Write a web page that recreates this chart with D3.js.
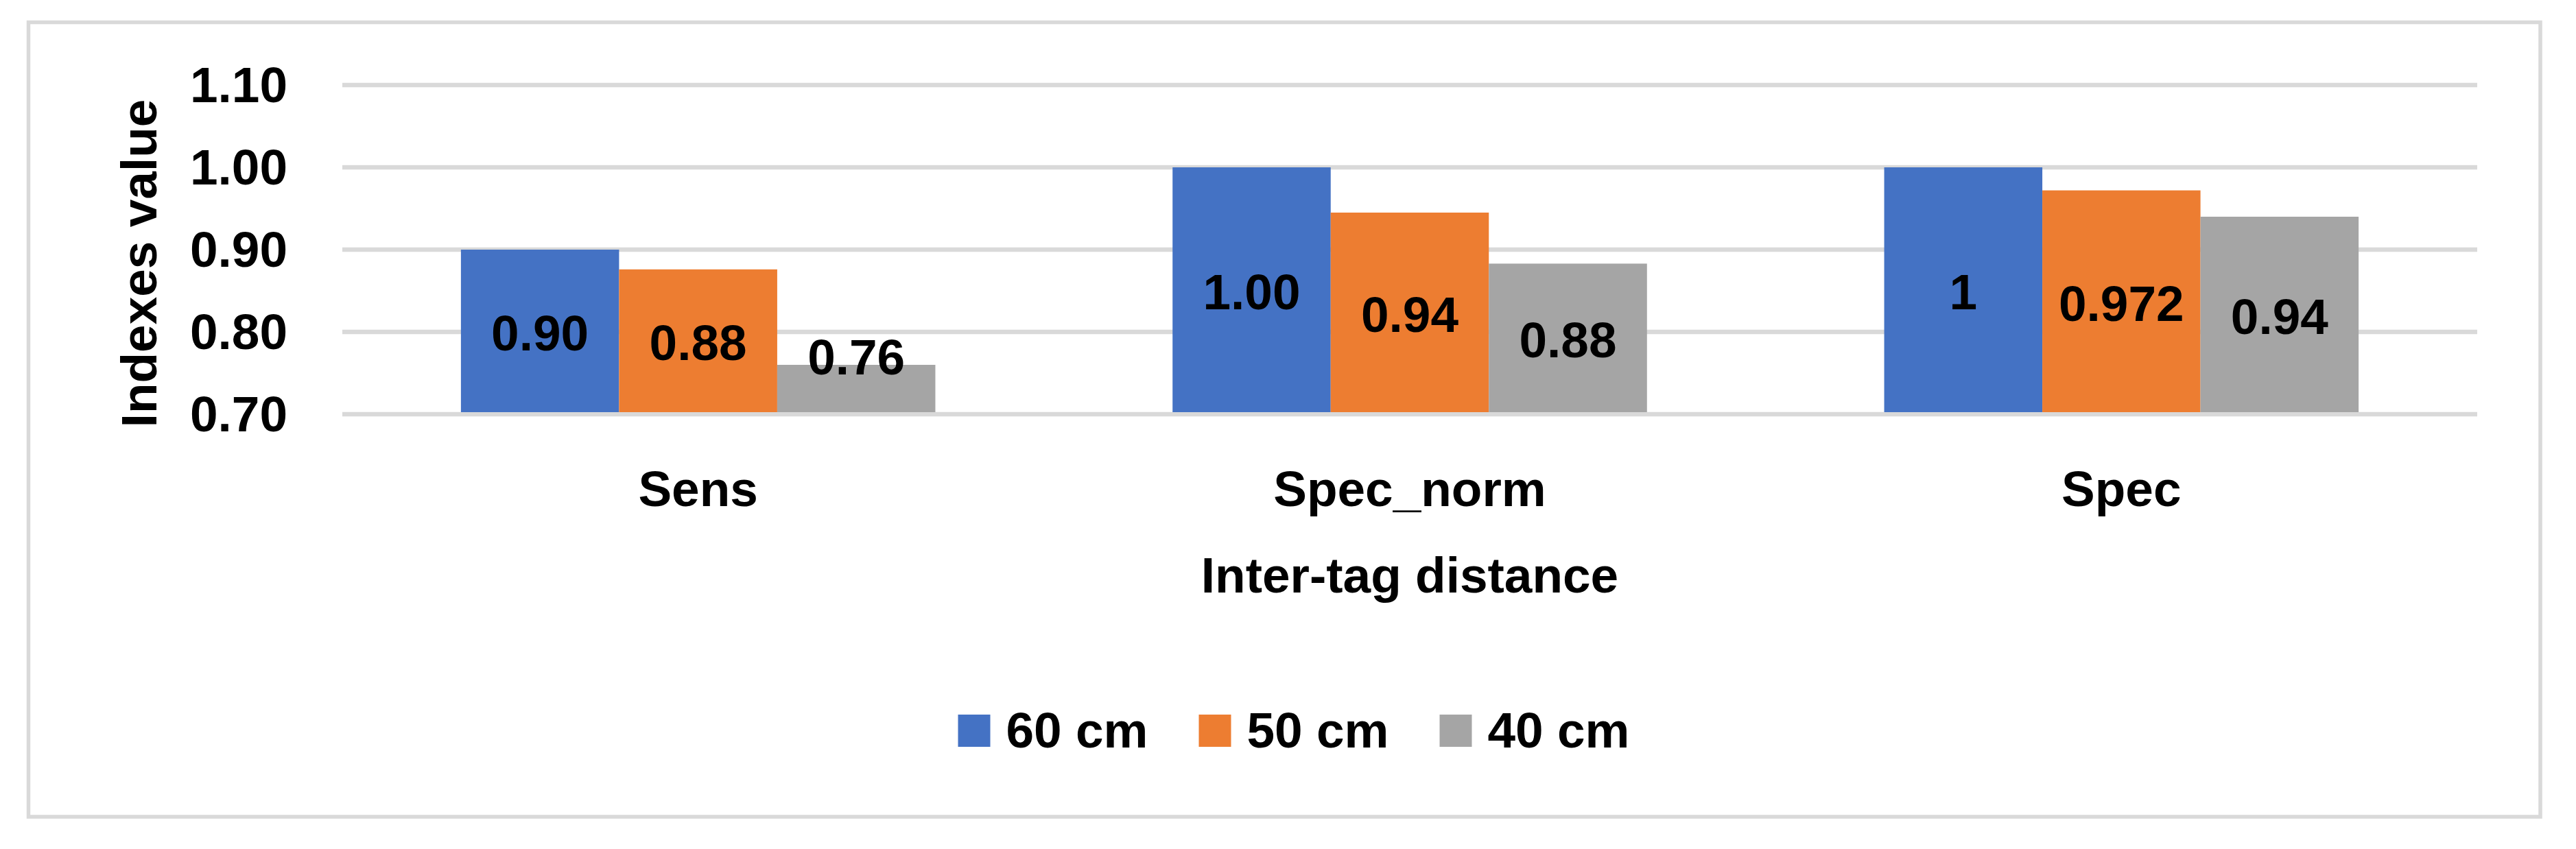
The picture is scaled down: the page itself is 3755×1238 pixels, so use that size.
<!DOCTYPE html>
<html>
<head>
<meta charset="utf-8">
<script src="https://cdn.jsdelivr.net/npm/d3@7"></script>
<style>
  html, body { margin: 0; padding: 0; background: #ffffff; }
  svg { display: block; }
  text { font-family: "Liberation Sans", Arial, sans-serif; font-weight: bold; fill: #000000; }
</style>
</head>
<body>
<script>
// ---- data ----
const categories = ["Sens", "Spec_norm", "Spec"];
const seriesNames = ["60 cm", "50 cm", "40 cm"];
const seriesColors = ["#4472C4", "#ED7D31", "#A5A5A5"];
const values60 = [0.90, 1.00, 1.00];
const values50 = [0.876, 0.945, 0.972];
const values40 = [0.76, 0.883, 0.94];
const labels60 = ["0.90", "1.00", "1"];
const labels50 = ["0.88", "0.94", "0.972"];
const labels40 = ["0.76", "0.88", "0.94"];
const yTicks = [0.70, 0.80, 0.90, 1.00, 1.10];
const yTickLabels = ["0.70", "0.80", "0.90", "1.00", "1.10"];
const xTitle = "Inter-tag distance";
const yTitle = "Indexes value";

const seriesValues = [values60, values50, values40];
const seriesLabels = [labels60, labels50, labels40];

// ---- layout ----
const W = 3755, H = 1238;
const FS = 73;
const svg = d3.select("body").append("svg").attr("width", W).attr("height", H);
svg.append("rect").attr("width", W).attr("height", H).attr("fill", "#ffffff");

// chart border
svg.append("rect")
  .attr("x", 41.5).attr("y", 32.5)
  .attr("width", 3661.5).attr("height", 1158.5)
  .attr("fill", "none").attr("stroke", "#D9D9D9").attr("stroke-width", 5.5);

const x = d3.scaleBand().domain(categories).range([499, 3611])
  .paddingInner(1 / 3).paddingOuter(1 / 6);
const xs = d3.scaleBand().domain(seriesNames).range([0, x.bandwidth()]).padding(0);
const y = d3.scaleLinear().domain([0.7, 1.1]).range([604, 124]);

// gridlines
svg.append("g").selectAll("line").data(yTicks).join("line")
  .attr("x1", x.range()[0]).attr("x2", x.range()[1])
  .attr("y1", d => y(d)).attr("y2", d => y(d))
  .attr("stroke", "#D9D9D9").attr("stroke-width", 6.5);

// y tick labels
svg.append("g").selectAll("text").data(yTicks).join("text")
  .attr("x", 419).attr("y", d => y(d) + 25)
  .attr("text-anchor", "end").attr("font-size", FS)
  .text((d, i) => yTickLabels[i]);

// bars
const barData = [];
seriesNames.forEach((s, si) => {
  categories.forEach((c, ci) => {
    barData.push({ s, si, c, v: seriesValues[si][ci], label: seriesLabels[si][ci] });
  });
});
const gBars = svg.append("g");
gBars.selectAll("rect").data(barData).join("rect")
  .attr("x", d => x(d.c) + xs(d.s))
  .attr("width", xs.bandwidth())
  .attr("y", d => y(d.v))
  .attr("height", d => y(0.7) - y(d.v) - 3)
  .attr("fill", d => seriesColors[d.si]);

// data labels (centered in bar, kept above the axis floor)
gBars.selectAll("text").data(barData).join("text")
  .attr("x", d => x(d.c) + xs(d.s) + xs.bandwidth() / 2)
  .attr("y", d => Math.min((y(d.v) + y(0.7)) / 2, y(0.7) - 85) + 27)
  .attr("text-anchor", "middle").attr("font-size", FS)
  .text(d => d.label);

// category labels
svg.append("g").selectAll("text").data(categories).join("text")
  .attr("x", d => x(d) + x.bandwidth() / 2).attr("y", 738)
  .attr("text-anchor", "middle").attr("font-size", FS)
  .text(d => d);

// axis titles
svg.append("text")
  .attr("x", (x.range()[0] + x.range()[1]) / 2).attr("y", 864)
  .attr("text-anchor", "middle").attr("font-size", FS)
  .text(xTitle);
svg.append("text")
  .attr("transform", "translate(228,384) rotate(-90)")
  .attr("text-anchor", "middle").attr("font-size", FS)
  .text(yTitle);

// legend
const legend = svg.append("g");
const sq = 47, gapText = 23, gapItem = 74;
const items = legend.selectAll("g").data(seriesNames).join("g");
items.append("rect").attr("width", sq).attr("height", sq).attr("y", 1042)
  .attr("fill", (d, i) => seriesColors[i]);
items.append("text").attr("x", sq + gapText).attr("y", 1090)
  .attr("font-size", FS).text(d => d);
let widths = [];
items.each(function () { widths.push(d3.select(this).select("text").node().getComputedTextLength()); });
const total = widths.reduce((a, w) => a + sq + gapText + w, 0) + gapItem * (widths.length - 1);
let cx = 1886 - total / 2;
items.each(function (d, i) {
  d3.select(this).attr("transform", `translate(${cx},0)`);
  cx += sq + gapText + widths[i] + gapItem;
});
</script>
</body>
</html>
